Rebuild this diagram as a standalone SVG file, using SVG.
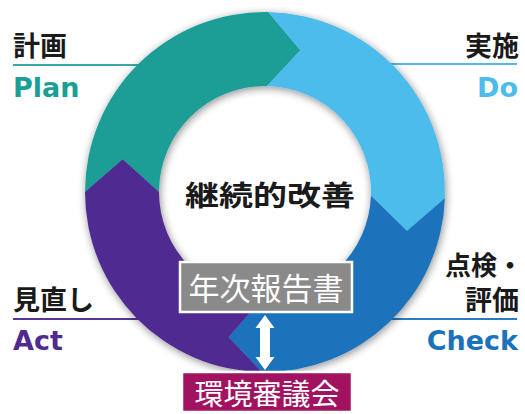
<svg xmlns="http://www.w3.org/2000/svg" width="525" height="414" viewBox="0 0 525 414">
<defs>
<style>
.jp{font-family:"Noto Sans CJK JP","Noto Sans CJK SC",sans-serif;font-weight:700;font-size:27px;fill:#1a1a1a}
.en{font-family:"DejaVu Sans",Verdana,sans-serif;font-weight:700;font-size:27px}
.box{font-family:"Noto Sans CJK JP","Noto Sans CJK SC",sans-serif;font-weight:400;font-size:31px;fill:#ffffff}
.rule{stroke-width:2.2;fill:none}
</style>
<filter id="sh" x="-20%" y="-20%" width="140%" height="140%">
<feGaussianBlur in="SourceAlpha" stdDeviation="4"/>
<feOffset dx="1" dy="2" result="b"/>
<feComponentTransfer><feFuncA type="linear" slope="0.45"/></feComponentTransfer>
<feMerge><feMergeNode/><feMergeNode in="SourceGraphic"/></feMerge>
</filter>
</defs>
<rect width="525" height="414" fill="#ffffff"/>

<g id="label-rules">
<line class="rule" x1="13" y1="65" x2="200" y2="65" stroke="#3aa9a5"/>
<line class="rule" x1="330" y1="64" x2="517" y2="64" stroke="#4cbceb"/>
<line class="rule" x1="13" y1="319" x2="200" y2="319" stroke="#5a3596"/>
<line class="rule" x1="330" y1="319" x2="517" y2="319" stroke="#2a7cc0"/>
</g>

<g id="ring" filter="url(#sh)">
<g id="plan-seg"><path d="M85,192 A180,180 0 0 1 268.14,12.03 L300.32,50.34 L266.85,86.02 A106,106 0 0 0 159,192 L122.74,159.16 Z" fill="#1a9e96"/></g>
<g id="do-seg"><path d="M268.14,12.03 A180,180 0 0 1 444.89,198.28 L407,231 L370.94,195.70 A106,106 0 0 0 266.85,86.02 L300.32,50.34 Z" fill="#4cbceb"/></g>
<g id="check-seg"><path d="M444.89,198.28 A180,180 0 0 1 261.86,371.97 L228.5,337 L263.15,297.98 A106,106 0 0 0 370.94,195.70 L407,231 Z" fill="#1a72bb"/></g>
<g id="act-seg"><path d="M261.86,371.97 A180,180 0 0 1 85,192 L122.74,159.16 L159,192 A106,106 0 0 0 263.15,297.98 L228.5,337 Z" fill="#502a90"/></g>
</g>

<g id="plan-label">
<text class="jp" x="13" y="56">計画</text>
<text class="en" x="13" y="97" fill="#1a9e96">Plan</text>
</g>
<g id="do-label">
<text class="jp" x="519" y="56" text-anchor="end">実施</text>
<text class="en" x="518" y="97" text-anchor="end" fill="#4cbceb">Do</text>
</g>
<g id="act-label">
<text class="jp" x="13" y="310">見直し</text>
<text class="en" x="13" y="350" fill="#502a90">Act</text>
</g>
<g id="check-label">
<text class="jp" x="523" y="275" text-anchor="end" style="font-size:26px">点検・</text>
<text class="jp" x="519" y="310" text-anchor="end">評価</text>
<text class="en" x="518" y="350" text-anchor="end" fill="#1a72bb">Check</text>
</g>

<g id="center">
<text class="jp" x="185" y="206" textLength="170" lengthAdjust="spacingAndGlyphs" style="font-size:28px">継続的改善</text>
</g>

<g id="connectors">
<polygon points="265,315 274.5,328 270,328 270,357 274.5,357 265,370 255.5,357 260,357 260,328 255.5,328" fill="#ffffff"/>
</g>

<g id="report">
<rect x="180" y="262" width="172" height="50" fill="#8a8a8a" stroke="#ffffff" stroke-width="2.5"/>
<text class="box" x="266" y="300" text-anchor="middle">年次報告書</text>
</g>
<g id="council">
<rect x="182" y="372" width="170" height="40" fill="#a11360" stroke="#ffffff" stroke-width="2.5"/>
<text class="box" x="267" y="405" text-anchor="middle" style="font-size:29px">環境審議会</text>
</g>
</svg>
